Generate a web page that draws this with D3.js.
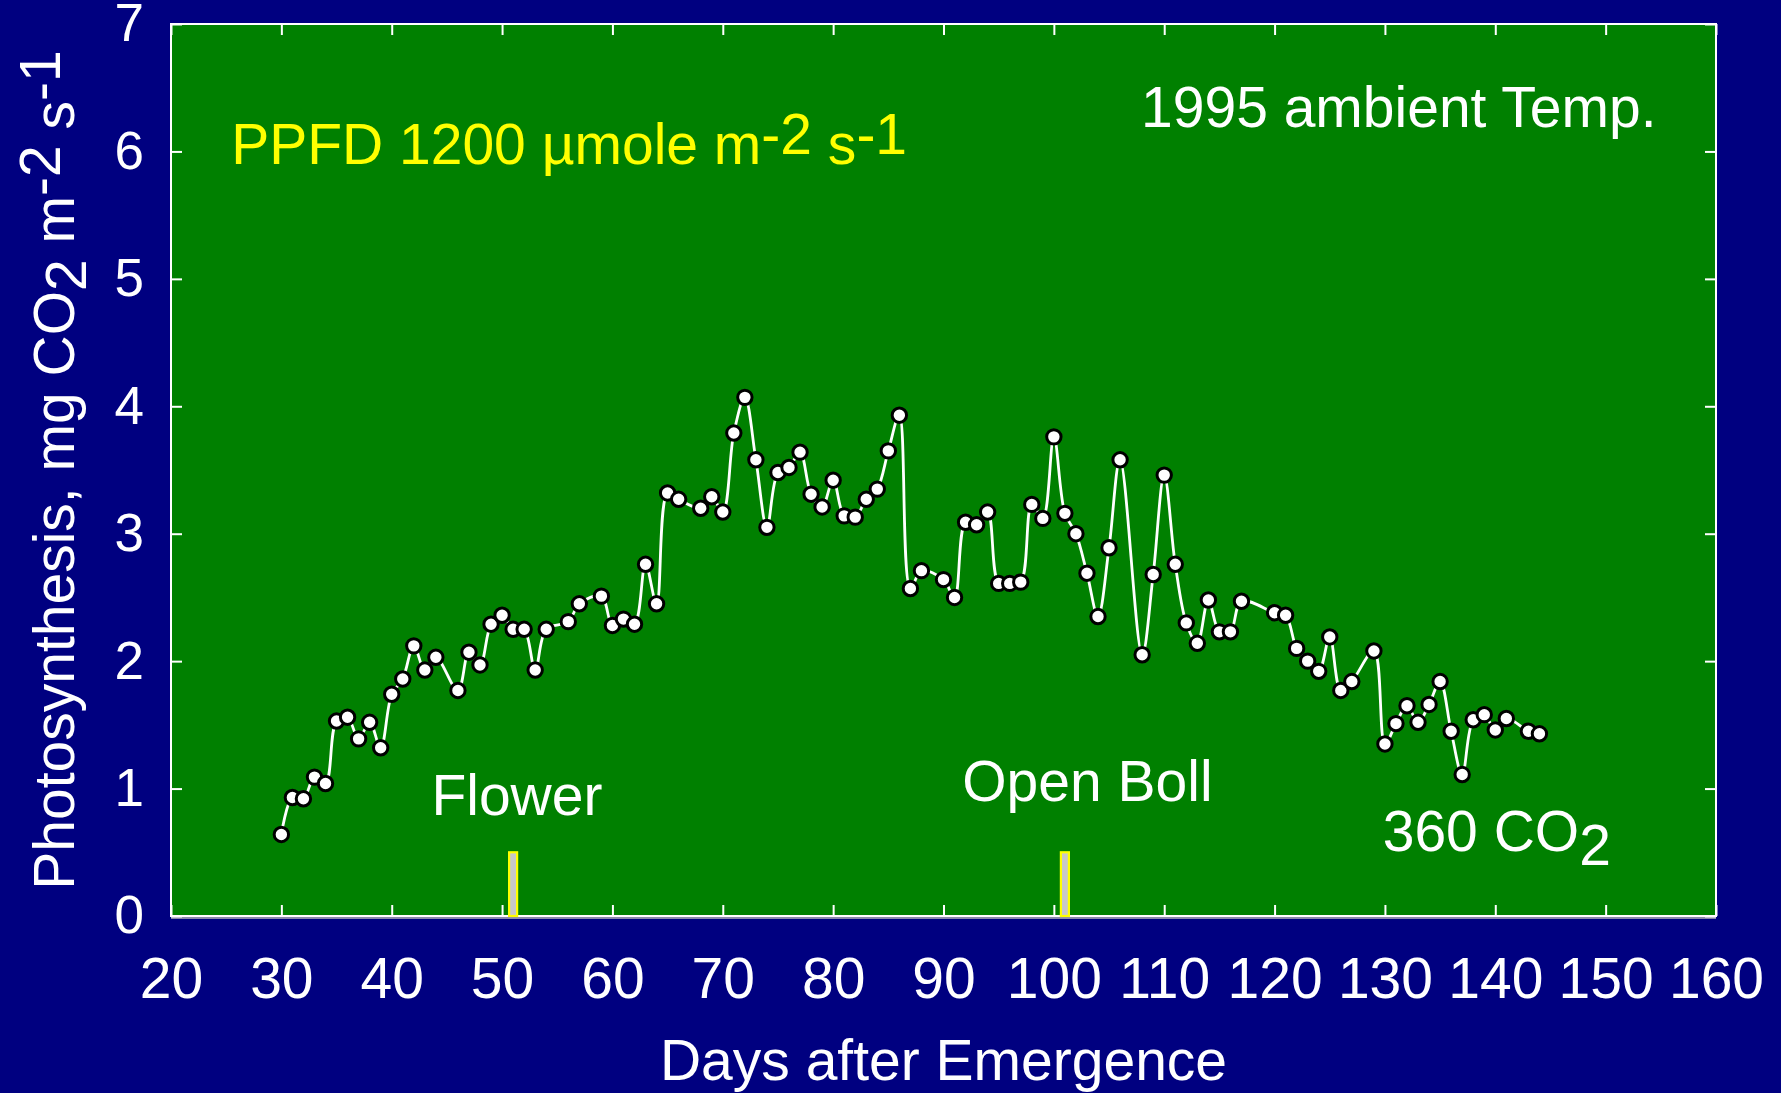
<!DOCTYPE html>
<html>
<head>
<meta charset="utf-8">
<script src="https://cdn.jsdelivr.net/npm/d3@7"></script>
<style>
  html, body { margin:0; padding:0; background:#000080; }
  svg text { font-family: "Liberation Sans", Arial, sans-serif; }
</style>
</head>
<body>
<div class="chart_photo"></div>
<script>
// days after emergence and net photosynthesis (mg CO2 m-2 s-1)
var days = [30,31,32,33,34,35,36,37,38,39,40,41,42,43,44,46,47,48,49,50,
  51,52,53,54,56,57,59,60,61,62,63,64,65,66,68,69,70,71,72,73,
  74,75,76,77,78,79,80,81,82,83,84,85,86,87,88,90,91,92,93,94,
  95,96,97,98,99,100,101,102,103,104,105,106,108,109,110,111,112,113,114,115,
  116,117,120,121,122,123,124,125,126,127,129,130,131,132,133,134,135,136,137,138,
  139,140,141,143,144];
var photo = [0.64,0.93,0.92,1.09,1.04,1.53,1.56,1.39,1.52,1.32,1.74,1.86,2.12,1.93,2.03,1.77,2.07,1.97,2.29,2.36,
  2.25,2.25,1.93,2.25,2.31,2.45,2.51,2.28,2.33,2.29,2.76,2.45,3.32,3.27,3.20,3.29,3.17,3.79,4.07,3.58,
  3.05,3.48,3.52,3.64,3.31,3.21,3.42,3.14,3.13,3.27,3.35,3.65,3.93,2.57,2.71,2.64,2.50,3.09,3.07,3.17,
  2.61,2.61,2.62,3.23,3.12,3.76,3.16,3.00,2.69,2.35,2.89,3.58,2.05,2.68,3.46,2.76,2.30,2.14,2.48,2.23,
  2.23,2.47,2.38,2.36,2.10,2.00,1.92,2.19,1.77,1.84,2.08,1.35,1.51,1.65,1.52,1.66,1.84,1.45,1.11,1.54,
  1.58,1.46,1.55,1.45,1.43];

var xTickValues = [20,30,40,50,60,70,80,90,100,110,120,130,140,150,160];
var yTickValues = [0,1,2,3,4,5,6,7];

// growth stages marked on the x axis
var stageDays = [51, 101];
var stageTop = [0.5, 0.5];

var margin = {top:24, right:65, bottom:177, left:171}
  , width = 1781 - margin.left - margin.right
  , height = 1093 - margin.top - margin.bottom;

var fs = 57;

var xScale = d3.scaleLinear().domain([20,160]).range([0,width]);
var yScale = d3.scaleLinear().domain([0,7]).range([height,0]);

var svg = d3.select(".chart_photo").append("svg")
  .attr("width", width+margin.left+margin.right)
  .attr("height", height+margin.top+margin.bottom)
  .style("display","block");

svg.append("rect")
  .attr("width", width+margin.left+margin.right)
  .attr("height", height+margin.top+margin.bottom)
  .attr("fill","#000080");

var g = svg.append("g")
  .attr("transform","translate("+margin.left+","+margin.top+")");

g.append("rect")
  .attr("width", width)
  .attr("height", height)
  .attr("fill","#008000");

// faint grey edge under the x axis
g.append("line")
  .attr("x1",0).attr("x2",width)
  .attr("y1",height+2).attr("y2",height+2)
  .attr("stroke","#b8b8b8").attr("stroke-width",1.5);

function styleAxis(sel){
  sel.select(".domain").remove();
  sel.selectAll(".tick line").attr("stroke","white").attr("stroke-width",2);
  sel.selectAll(".tick text").attr("fill","white").attr("font-family","Liberation Sans, Arial, sans-serif");
}

var xAxis = g.append("g")
  .attr("class","x axis")
  .attr("transform","translate(0,"+height+")")
  .call(d3.axisBottom(xScale).tickValues(xTickValues).tickSizeInner(-11).tickSizeOuter(0).tickPadding(42));
styleAxis(xAxis);
xAxis.selectAll(".tick text").attr("font-size", fs);

var xTop = g.append("g")
  .call(d3.axisTop(xScale).tickValues(xTickValues).tickSizeInner(-11).tickSizeOuter(0).tickFormat(""));
styleAxis(xTop);

var yAxis = g.append("g")
  .attr("class","y axis")
  .call(d3.axisLeft(yScale).tickValues(yTickValues).tickFormat(d3.format("d"))
    .tickSizeInner(-11).tickSizeOuter(0).tickPadding(27));
styleAxis(yAxis);
yAxis.selectAll(".tick text").attr("font-size", 53);

var yRight = g.append("g")
  .attr("transform","translate("+width+",0)")
  .call(d3.axisRight(yScale).tickValues(yTickValues).tickSizeInner(-11).tickSizeOuter(0).tickFormat(""));
styleAxis(yRight);

// frame
g.append("rect")
  .attr("width", width)
  .attr("height", height)
  .attr("fill","none")
  .attr("stroke","white")
  .attr("stroke-width",2);

// stage markers
g.selectAll(".stage")
  .data(stageDays)
  .enter().append("rect")
  .attr("class","stage")
  .attr("x", function(d){ return xScale(d) - 4; })
  .attr("y", function(d,i){ return yScale(stageTop[i]); })
  .attr("width", 8)
  .attr("height", function(d,i){ return height - yScale(stageTop[i]); })
  .attr("fill","#c8c8c8")
  .attr("stroke","yellow")
  .attr("stroke-width",2.2);

var dataset = days.map(function(d,i){ return {x:d, y:photo[i]}; });

var line = d3.line()
  .x(function(d){ return xScale(d.x); })
  .y(function(d){ return yScale(d.y); })
  .curve(d3.curveCatmullRom);

g.append("path")
  .datum(dataset)
  .attr("class","line")
  .attr("fill","none")
  .attr("stroke","white")
  .attr("stroke-width",2.8)
  .attr("d", line);

g.selectAll(".dot")
  .data(dataset)
  .enter().append("circle")
  .attr("class","dot")
  .attr("cx", function(d){ return xScale(d.x); })
  .attr("cy", function(d){ return yScale(d.y); })
  .attr("r", 7.2)
  .attr("fill","white")
  .attr("stroke","black")
  .attr("stroke-width",3);

// annotations
var ppfd = g.append("text")
  .attr("x", xScale(25.45)).attr("y", yScale(5.90))
  .attr("fill","yellow").attr("font-size", fs);
ppfd.append("tspan").text("PPFD 1200 \u00b5mole m");
ppfd.append("tspan").attr("dy",-10).text("-2");
ppfd.append("tspan").attr("dy",10).text(" s");
ppfd.append("tspan").attr("dy",-10).text("-1");

g.append("text")
  .attr("x", xScale(107.9)).attr("y", yScale(6.19))
  .attr("fill","white").attr("font-size", fs)
  .text("1995 ambient Temp.");

g.append("text")
  .attr("x", xScale(43.6)).attr("y", yScale(0.79))
  .attr("fill","white").attr("font-size", fs)
  .text("Flower");

g.append("text")
  .attr("x", xScale(91.7)).attr("y", yScale(0.90))
  .attr("fill","white").attr("font-size", fs)
  .text("Open Boll");

var co2 = g.append("text")
  .attr("x", xScale(129.8)).attr("y", yScale(0.51))
  .attr("fill","white").attr("font-size", fs);
co2.append("tspan").text("360 CO");
co2.append("tspan").attr("dy",14).text("2");

// axis titles
svg.append("text")
  .attr("x", margin.left + width/2)
  .attr("y", 1080)
  .attr("text-anchor","middle")
  .attr("fill","white").attr("font-size", fs)
  .text("Days after Emergence");

var yt = svg.append("text")
  .attr("transform","translate(74,"+(margin.top+height/2)+") rotate(-90)")
  .attr("text-anchor","middle")
  .attr("fill","white").attr("font-size", fs);
yt.append("tspan").text("Photosynthesis, mg CO");
yt.append("tspan").attr("dy",12).text("2");
yt.append("tspan").attr("dy",-12).text(" m");
yt.append("tspan").attr("dy",-14).text("-2");
yt.append("tspan").attr("dy",14).text(" s");
yt.append("tspan").attr("dy",-14).text("-1");
</script>
</body>
</html>
